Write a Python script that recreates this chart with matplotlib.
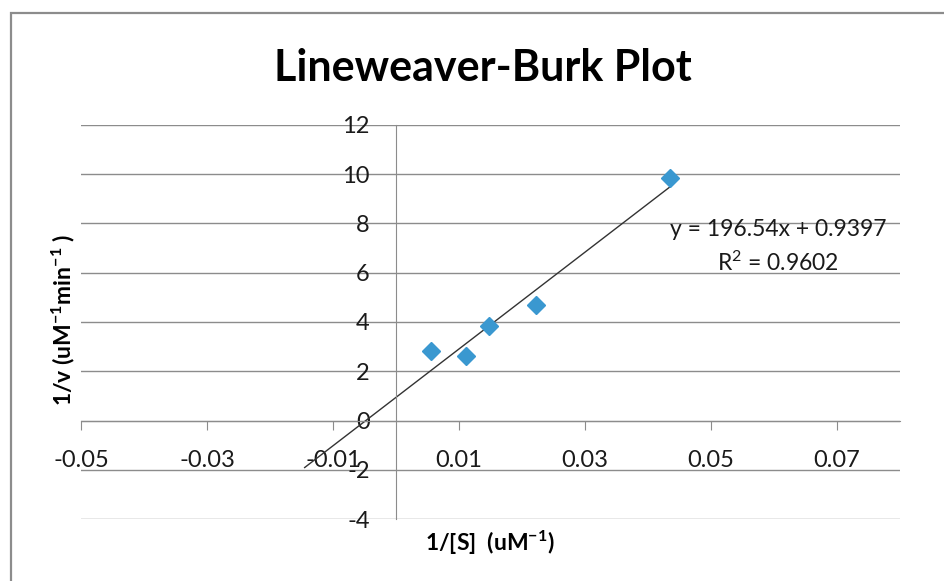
import matplotlib.pyplot as plt
from matplotlib.patches import Rectangle
import numpy as np

# reciprocal substrate concentration (uM^-1) and reciprocal rate
inv_s = [0.0056, 0.0111, 0.0148, 0.0222, 0.0435]
inv_v = [2.84, 2.63, 3.85, 4.70, 9.85]

# linear trendline as reported
slope = 196.54
intercept = 0.9397
r_squared = 0.9602
trend_start = -0.0145

x_ticks = [-0.05, -0.03, -0.01, 0.01, 0.03, 0.05, 0.07]
y_ticks = [-4, -2, 0, 2, 4, 6, 8, 10, 12]

plt.rcParams['font.family'] = ['Lato', 'DejaVu Sans']
plt.rcParams['mathtext.default'] = 'regular'

fig = plt.figure(figsize=(9.44, 5.81), dpi=100)
fig.patch.set_facecolor('white')

# chart frame
fig.patches.append(Rectangle((11 / 944, -0.1), 1.2, 1.1 - 13 / 581,
                             transform=fig.transFigure, fill=False,
                             edgecolor='#8c8c8c', linewidth=1.6))

ax = fig.add_axes([81 / 944, 1 - 519 / 581, (900 - 81) / 944, (519 - 125) / 581])
ax.set_xlim(-0.05, 0.08)
ax.set_ylim(-4, 12)

grid_c = '#8c8c8c'
for yv in y_ticks:
    ax.axhline(yv, color=grid_c, linewidth=1.0, zorder=0)

for s in ['top', 'right']:
    ax.spines[s].set_visible(False)
ax.spines['left'].set_position(('data', 0))
ax.spines['bottom'].set_position(('data', 0))
ax.spines['left'].set_color(grid_c)
ax.spines['bottom'].set_color(grid_c)

ax.set_xticks(x_ticks)
ax.set_xticklabels([f'{t:.2f}' for t in x_ticks])
ax.set_yticks(y_ticks)
ax.set_yticklabels([str(t) for t in y_ticks])
ax.tick_params(axis='x', direction='out', length=6.5, color=grid_c,
               pad=15, labelsize=17, labelcolor='#1a1a1a')
ax.tick_params(axis='y', length=0, pad=19, labelsize=17, labelcolor='#1a1a1a')

# trendline
xs = np.array([trend_start, max(inv_s)])
ax.plot(xs, slope * xs + intercept, color='#333333', linewidth=1.0, zorder=2)

ax.plot(inv_s, inv_v, linestyle='none', marker='D', markersize=9.5,
        color='#3a98d0', zorder=3)

ax.text(0.0607, 7.05, f'y = {slope}x + {intercept}\nR$^2$ = {r_squared}',
        ha='center', va='center', fontsize=16.5, color='#1a1a1a',
        linespacing=1.5)

fig.text(483 / 944, 1 - 68 / 581, 'Lineweaver-Burk Plot', ha='center',
         va='center', fontsize=31, fontweight='bold')
fig.text(490 / 944, 1 - 543 / 581, '1/[S]  (uM$^{-1}$)', ha='center',
         va='center', fontsize=16.5, fontweight='bold')
fig.text(63 / 944, 1 - 320 / 581, '1/v (uM$^{-1}$min$^{-1}$ )', ha='center',
         va='center', fontsize=16.5, fontweight='bold', rotation=90)

fig.savefig('out.png', dpi=100)
